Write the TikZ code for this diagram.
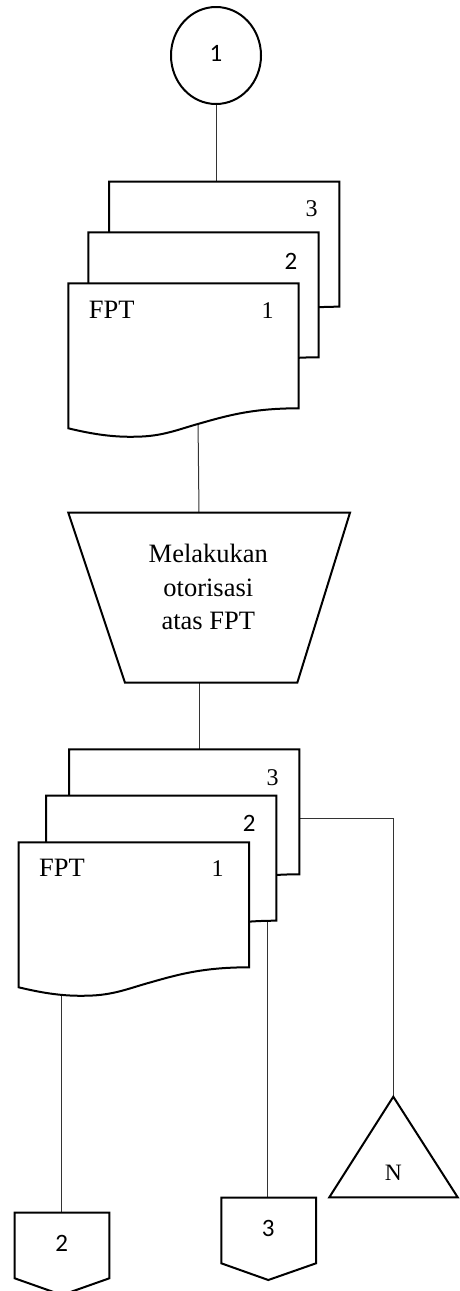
\documentclass[tikz,border=0pt]{standalone}
\usepackage{fontspec}
\setmainfont{Liberation Serif}
\newfontfamily\numsans{Carlito}
\usetikzlibrary{shapes.geometric}

\tikzset{
  shapeline/.style={draw=black, line width=2pt, fill=white},
  conn/.style={draw=black!80, line width=1pt},
  seriftext/.style={inner sep=0pt, anchor=base, font=\fontsize{26.5}{33.3}\selectfont, align=center},
  serifnum/.style={inner sep=0pt, anchor=base, font=\fontsize{24}{28}\selectfont},
  sansnum/.style={inner sep=0pt, anchor=base, font=\numsans\fontsize{25}{30}\selectfont},
  docpic/.pic={
    \path[shapeline] (0,0) -- (230.3,0) -- (230.3,125)
      .. controls (185,125) and (160,132) .. (132,140)
      .. controls (110,146) and (95,153) .. (68,153.4)
      .. controls (45,154) and (25,151) .. (0,145) -- cycle;
  }
}

\begin{document}
\begin{tikzpicture}[x=1pt, y=-1pt]
\useasboundingbox (0,0) rectangle (459,1291);

% on-page connector at the top
\node[draw, line width=2pt, ellipse, minimum width=90pt, minimum height=97pt, inner sep=0pt] (c1) at (216,55.5) {};
\node[sansnum] (c1lbl) at (216,61) {1};

% anchor points of the connectors
\coordinate (u3top) at (216,181.7);
\coordinate (u1bot) at (198,420);
\coordinate (ttop) at (199,512.7);
\coordinate (tbot) at (199,682.7);
\coordinate (l3top) at (199,749.3);
\coordinate (l1bot) at (61.7,980);
\coordinate (l2bot) at (267.7,915);
\coordinate (l3right) at (299.3,818.3);
\coordinate (turn) at (393.3,818.3);
\coordinate (off2top) at (61.7,1212.7);
\coordinate (off3top) at (268.3,1197.7);
\coordinate (triapex) at (393.3,1096.7);

% connectors
\draw[conn] (c1.south) -- (u3top);
\draw[conn] (u1bot) -- (ttop);
\draw[conn] (tbot) -- (l3top);
\draw[conn] (l1bot) -- (off2top);
\draw[conn] (l2bot) -- (l2bot |- off3top);
\draw[conn] (l3right) -- (turn) -- (triapex);

% upper document stack
\pic at (109,181.7) {docpic};
\pic at (88.3,232.3) {docpic};
\pic at (68.3,283.3) {docpic};
\node[serifnum] (u3n) at (311.7,216.7) {3};
\node[sansnum] (u2n) at (291,269) {2};
\node[seriftext] (u1t) at (111.7,318.3) {FPT};
\node[serifnum] (u1n) at (267.7,318.3) {1};

% manual operation
\path[shapeline] (68.3,512.7) -- (350,512.7) -- (297.3,682.7) -- (125,682.7) -- cycle;
\node[seriftext] (op1) at (208.3,562.7) {Melakukan};
\node[seriftext] (op2) at (208.3,596) {otorisasi};
\node[seriftext] (op3) at (208.3,629.3) {atas FPT};

% lower document stack
\pic at (69,749.3) {docpic};
\pic at (46,795.7) {docpic};
\pic at (18.7,842.3) {docpic};
\node[serifnum] (l3n) at (272.7,785) {3};
\node[sansnum] (l2n) at (249.3,831.7) {2};
\node[seriftext] (l1t) at (62,876.7) {FPT};
\node[serifnum] (l1n) at (217.7,876.7) {1};

% off-page connectors
\path[shapeline] (14.7,1212.7) -- (109.3,1212.7) -- (109.3,1278.3) -- (62,1295) -- (14.7,1278.3) -- cycle;
\node[sansnum] (off2) at (61.7,1251.7) {2};
\path[shapeline] (221.3,1197.7) -- (316,1197.7) -- (316,1263.3) -- (268.3,1280) -- (221.3,1263.3) -- cycle;
\node[sansnum] (off3) at (268.3,1236.7) {3};

% file
\path[shapeline] (triapex) -- (457.7,1197.3) -- (329.3,1197.3) -- cycle;
\node[inner sep=0pt, anchor=base, font=\fontsize{23.5}{28}\selectfont] (file) at (393.3,1180) {N};
\end{tikzpicture}
\end{document}
